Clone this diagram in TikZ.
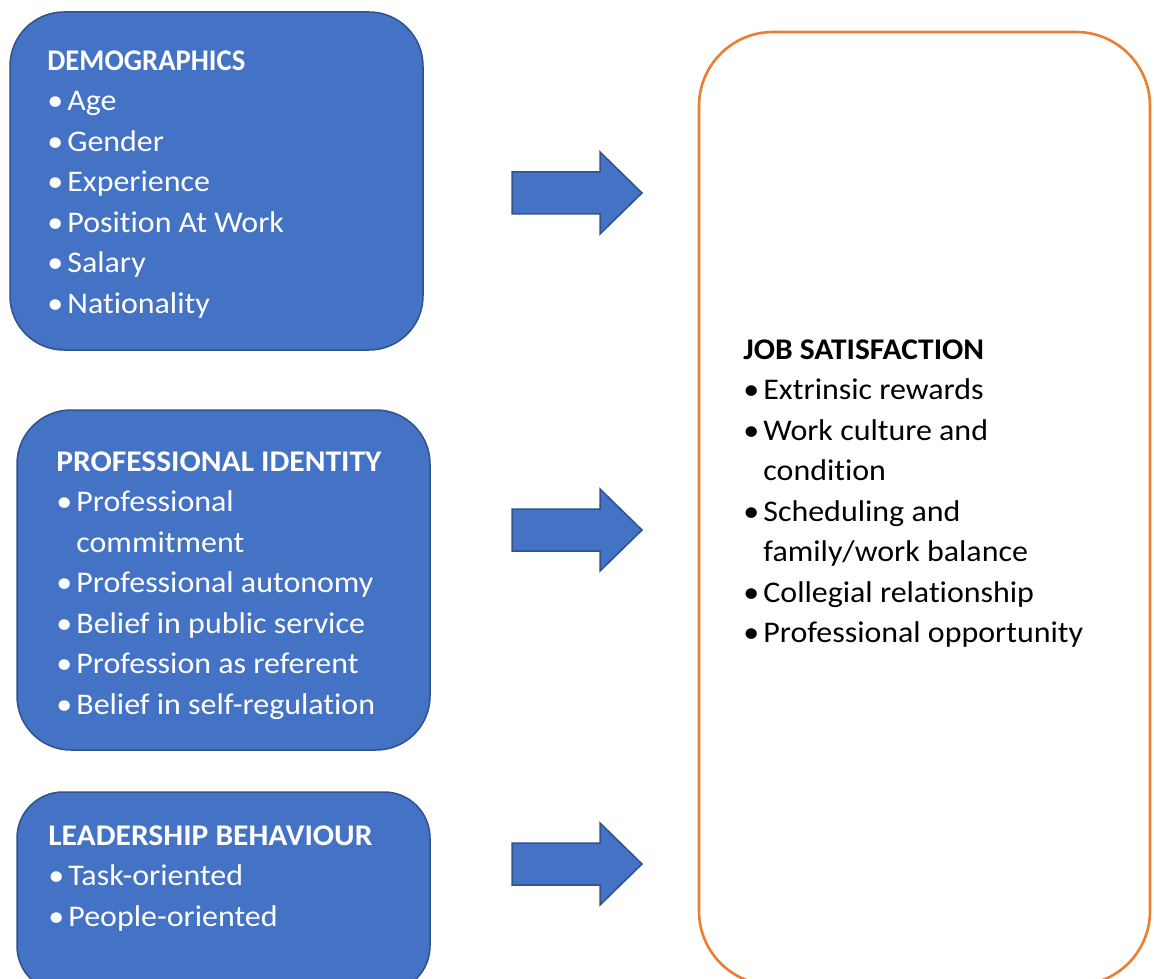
\documentclass[tikz,border=0pt]{standalone}
\usepackage{fontspec}
\setmainfont{Carlito}[RawFeature={-liga;-clig;-dlig;-calt},
  UprightFeatures={FakeStretch=1.065},
  BoldFeatures={FakeStretch=1.05}]
\definecolor{boxblue}{HTML}{4472C4}
\definecolor{boxedge}{HTML}{2F528F}
\definecolor{outline}{HTML}{ED7D31}
% bullet column
\newlength{\bulw}
\setlength{\bulw}{10pt}
\newcommand{\itm}{\makebox[\bulw][l]{\textbullet}}
\newcommand{\cont}{\hspace*{\bulw}}
\tikzset{
  factor/.style={draw=boxedge,fill=boxblue,line width=0.75pt},
  outcome/.style={draw=outline,line width=1.3pt,rounded corners=37pt},
  blockarrow/.style={draw=boxedge,fill=boxblue,line width=0.75pt},
  listtext/.style={anchor=north west,inner sep=0pt,align=left,
    font=\fontsize{15pt}{20.25pt}\selectfont},
}
\begin{document}
\begin{tikzpicture}[x=0.5pt,y=-0.5pt]
  \clip (0,0) rectangle (1154,978);
  \fill[white] (0,0) rectangle (1154,978);
  % the three factor boxes
  \path[factor,rounded corners=27pt] (10,12) rectangle (423,350);
  \path[factor,rounded corners=27pt] (17,410) rectangle (430,750);
  \path[factor,rounded corners=23pt] (17,792) rectangle (430,992);
  % outcome box
  \path[outcome] (699,32) rectangle (1150,985);
  % block arrows
  \foreach \y in {193,530,864}{%
    \path[blockarrow] (512,\y-21) -- (600,\y-21) -- (600,\y-41) -- (642,\y)
      -- (600,\y+41) -- (600,\y+21) -- (512,\y+21) -- cycle;
  }
  \node[listtext,text=white] (demo) at (47,50) {%
    \scalebox{0.91}[1]{\textbf{DEMOGRAPHICS}}\\
    \itm Age\\
    \itm Gender\\
    \itm Experience\\
    \itm Position At Work\\
    \itm Salary\\
    \itm Nationality};
  \node[listtext,text=white] (ident) at (56,451) {%
    \textbf{PROFESSIONAL IDENTITY}\\
    \itm Professional\\
    \cont commitment\\
    \itm Professional autonomy\\
    \itm Belief in public service\\
    \itm Profession as referent\\
    \itm Belief in self-regulation};
  \node[listtext,text=white] (lead) at (48,825) {%
    \textbf{LEADERSHIP BEHAVIOUR}\\
    \itm Task-oriented\\
    \itm People-oriented};
  \node[listtext] (job) at (743,339) {%
    \textbf{JOB SATISFACTION}\\
    \itm Extrinsic rewards\\
    \itm Work culture and\\
    \cont condition\\
    \itm Scheduling and\\
    \cont family/work balance\\
    \itm Collegial relationship\\
    \itm Professional opportunity};
\end{tikzpicture}
\end{document}
